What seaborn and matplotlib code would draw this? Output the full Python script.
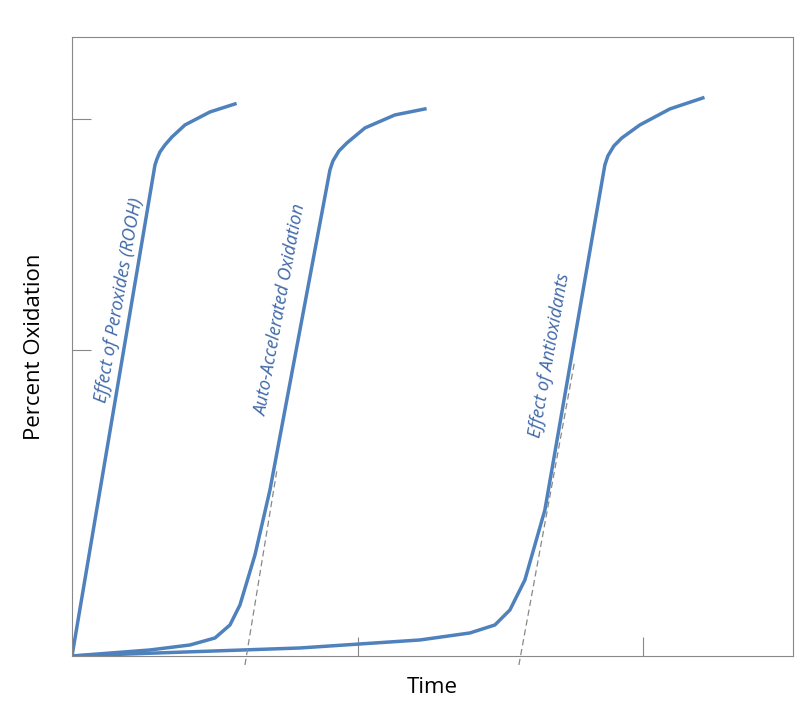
import numpy as np
import pandas as pd
import matplotlib
matplotlib.use("Agg")
import matplotlib.pyplot as plt
import seaborn as sns

# values (time units, oxidation units)
peroxide_t = [0, 83, 85, 88, 93, 100, 113, 138, 163]
peroxide_y = [0, 491, 497, 504, 511, 519, 531, 544, 552]

auto_t = [0, 78, 118, 143, 158, 168, 183, 198, 258, 261, 267, 275, 293, 323, 353]
auto_y = [0, 6, 11, 18, 31, 51, 101, 166, 486, 495, 505, 513, 528, 541, 547]

anti_t = [0, 228, 348, 398, 423, 438, 453, 473, 533, 536, 542, 550, 568, 598, 631]
anti_y = [0, 8, 16, 23, 31, 46, 76, 146, 491, 500, 510, 518, 531, 547, 558]

dash1_t = [173, 205]
dash1_y = [-9, 186]
dash2_t = [447, 503]
dash2_y = [-9, 296]

labels = ["Effect of Peroxides (ROOH)", "Auto-Accelerated Oxidation", "Effect of Antioxidants"]
label_pos = [(47, 356), (209, 346), (478, 301)]
label_rot = [80, 79.5, 80]

blue = "#4F81BD"
fig = plt.figure(figsize=(8.09, 7.27), dpi=100)
ax = fig.add_axes([0.089, 0.0977, 0.891, 0.8515])

for t, y in [(peroxide_t, peroxide_y), (auto_t, auto_y), (anti_t, anti_y)]:
    df = pd.DataFrame({"t": t, "y": y})
    sns.lineplot(data=df, x="t", y="y", sort=False, color=blue, linewidth=2.5, ax=ax)

for t, y in [(dash1_t, dash1_y), (dash2_t, dash2_y)]:
    ax.plot(t, y, color="#888888", linestyle=(0, (5, 3)), linewidth=0.9, clip_on=False)

for text, (x, y), r in zip(labels, label_pos, label_rot):
    ax.text(x, y, text, rotation=r, ha="center", va="center", color="#3F68A8",
            fontsize=13, style="italic", fontfamily="Open Sans")

ax.set_xlim(0, 721)
ax.set_ylim(0, 619)
ax.set_xticks([286, 571])
ax.set_yticks([306, 537])
ax.set_xticklabels([])
ax.set_yticklabels([])
ax.tick_params(direction="in", length=14, color="#888888", width=0.8)
for s in ax.spines.values():
    s.set_color("#888888")
ax.set_xlabel("Time", fontsize=16, fontfamily="Open Sans", labelpad=12)
ax.set_ylabel("Percent Oxidation", fontsize=16, fontfamily="Open Sans", labelpad=16)

fig.savefig("out.png", dpi=100)
